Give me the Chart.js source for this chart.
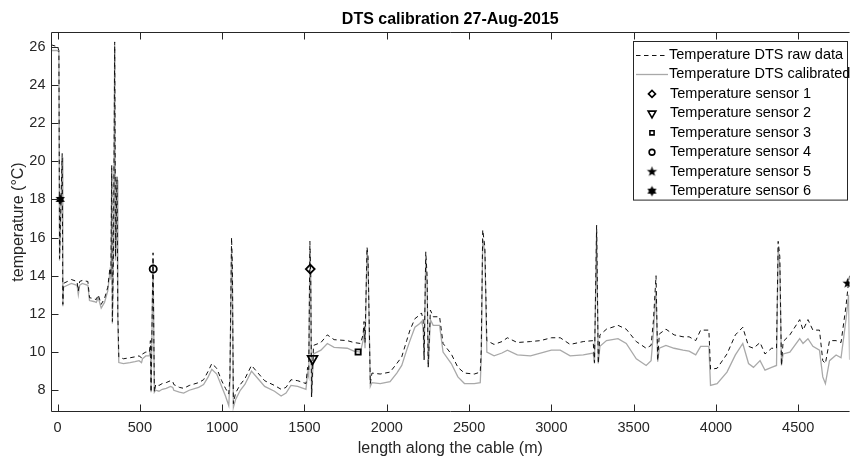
<!DOCTYPE html>
<html>
<head>
<meta charset="utf-8">
<title>DTS calibration 27-Aug-2015</title>
<script src="https://cdn.jsdelivr.net/npm/chart.js@4.4.1/dist/chart.umd.min.js"></script>
<style>
  html, body { margin: 0; padding: 0; background: #fff; }
  canvas { display: block; }
</style>
</head>
<body>
<canvas id="dts" width="857" height="459"></canvas>
<script>
"use strict";

// distance along the cable (m)
const cableLength = [
    -40, 0, 8, 12, 28, 32, 36, 60, 84, 118, 126, 134, 150, 184, 194, 220, 235, 247, 265, 285,
    305, 318, 324, 329, 333, 340, 347, 352, 361, 366, 372, 400, 440, 470, 495, 510, 516, 536, 558, 564,
    568, 580, 588, 596, 616, 636, 660, 686, 700, 706, 740, 766, 800, 857, 887, 915, 937, 967, 997, 1020,
    1040, 1047, 1057, 1062, 1068, 1081, 1110, 1138, 1178, 1218, 1258, 1318, 1358, 1388, 1418, 1459, 1509, 1519, 1526, 1533,
    1538, 1543, 1555, 1600, 1639, 1680, 1760, 1800, 1840, 1856, 1862, 1868, 1880, 1886, 1900, 1910, 1960, 2020, 2061, 2091,
    2121, 2141, 2171, 2201, 2211, 2221, 2227, 2237, 2245, 2252, 2265, 2282, 2321, 2342, 2392, 2432, 2472, 2532, 2568, 2574,
    2583, 2596, 2608, 2652, 2700, 2733, 2793, 2873, 2934, 3000, 3054, 3114, 3194, 3254, 3262, 3275, 3285, 3295, 3335, 3405,
    3455, 3516, 3576, 3606, 3620, 3636, 3646, 3656, 3696, 3746, 3800, 3837, 3877, 3907, 3957, 3967, 4007, 4067, 4118, 4163,
    4198, 4228, 4268, 4298, 4338, 4368, 4378, 4388, 4398, 4408, 4449, 4509, 4529, 4559, 4589, 4629, 4649, 4665, 4690, 4730,
    4760, 4790, 4806, 4812
];

// Temperature DTS raw data (°C)
const rawTemp = [
    26.1, 26.0, 25.8, 14.9, 20.4, 12.5, 13.6, 13.7, 13.8, 13.7, 13.2, 13.7, 13.75, 13.7, 12.85, 12.8, 12.75, 13.0, 12.5, 12.8,
    13.4, 14.4, 14.0, 19.8, 11.6, 15.5, 26.25, 15.0, 19.2, 12.0, 9.75, 9.65, 9.7, 9.75, 9.8, 9.7, 9.9, 10.0, 10.0, 10.6,
    7.9, 15.2, 7.9, 8.3, 8.25, 8.35, 8.4, 8.5, 8.45, 8.3, 8.15, 8.1, 8.25, 8.4, 8.55, 9.0, 9.4, 9.15, 8.5, 8.1,
    7.8, 8.7, 16.0, 14.5, 7.3, 7.85, 8.3, 8.6, 9.3, 8.9, 8.5, 8.25, 8.05, 8.15, 8.55, 8.5, 8.35, 9.2, 9.0, 15.8,
    14.0, 7.65, 10.35, 10.5, 10.9, 10.65, 10.6, 10.5, 10.45, 10.9, 11.6, 10.5, 15.5, 15.0, 8.35, 8.9, 8.85, 8.95, 9.4, 9.75,
    10.6, 11.15, 11.75, 11.95, 12.05, 11.7, 9.6, 15.25, 14.0, 9.2, 12.2, 11.85, 11.85, 10.45, 9.9, 9.2, 8.9, 8.85, 8.95, 10.1,
    16.4, 15.5, 10.6, 10.4, 10.55, 10.75, 10.5, 10.55, 10.6, 10.75, 10.75, 10.4, 10.55, 10.6, 9.45, 16.65, 9.4, 10.9, 11.2, 11.4,
    11.2, 10.55, 10.2, 10.35, 11.65, 14.0, 9.55, 10.95, 11.2, 10.9, 10.8, 10.8, 10.6, 11.15, 11.15, 9.1, 9.15, 9.9, 10.9, 11.3,
    10.3, 10.2, 10.5, 9.9, 10.2, 10.2, 15.8, 15.0, 9.3, 10.55, 10.9, 11.7, 11.15, 11.7, 11.15, 11.15, 9.55, 9.4, 10.6, 10.6,
    10.5, 12.4, 13.7, 14.0
];

// Temperature DTS calibrated (°C)
const calTemp = [
    25.8, 25.8, 25.7, 14.8, 20.2, 12.4, 13.4, 13.5, 13.6, 13.5, 13.0, 13.5, 13.6, 13.5, 12.7, 12.65, 12.6, 12.85, 12.3, 12.6,
    13.2, 14.2, 13.8, 19.4, 11.5, 15.3, 26.0, 14.8, 19.0, 11.8, 9.45, 9.4, 9.45, 9.5, 9.55, 9.45, 9.65, 9.8, 9.8, 10.3,
    7.9, 14.9, 7.9, 8.0, 7.95, 8.05, 8.1, 8.2, 8.15, 8.0, 7.9, 7.85, 8.0, 8.15, 8.3, 8.7, 9.1, 8.85, 8.2, 7.7,
    7.2, 8.4, 15.4, 14.0, 7.1, 7.5, 8.0, 8.3, 9.0, 8.6, 8.2, 7.95, 7.7, 7.85, 8.25, 8.2, 8.05, 8.9, 8.7, 15.3,
    13.8, 7.65, 9.9, 10.1, 10.45, 10.25, 10.2, 10.05, 10.0, 10.6, 11.3, 10.2, 15.3, 14.8, 8.2, 8.4, 8.35, 8.45, 8.9, 9.3,
    10.1, 10.6, 11.3, 11.5, 11.6, 11.3, 9.6, 14.9, 13.5, 9.2, 11.7, 11.4, 11.4, 10.0, 9.4, 8.7, 8.35, 8.35, 8.4, 9.6,
    15.9, 15.2, 10.0, 9.8, 9.95, 10.1, 9.85, 9.8, 9.95, 10.1, 10.1, 9.8, 9.85, 9.95, 9.4, 16.3, 9.4, 10.3, 10.6, 10.7,
    10.45, 9.65, 9.3, 9.55, 11.0, 13.2, 9.5, 10.2, 10.35, 10.2, 10.1, 10.05, 9.85, 10.3, 10.3, 8.25, 8.35, 8.95, 9.85, 10.45,
    9.4, 9.2, 9.55, 9.05, 9.2, 9.3, 15.5, 14.5, 9.3, 9.9, 10.0, 10.7, 10.45, 10.7, 10.3, 10.1, 8.7, 8.35, 9.55, 9.85,
    9.7, 11.7, 13.0, 9.6
];

// reference sensors: position (m) and temperature (°C)
const sensorLabels = [
    "Temperature sensor 1", "Temperature sensor 2", "Temperature sensor 3",
    "Temperature sensor 4", "Temperature sensor 5", "Temperature sensor 6"
];
const sensorLength = [1535, 1549, 1826, 581, 4800, 16];
const sensorTemp = [14.35, 9.65, 10.0, 14.35, 13.6, 18.0];

const xTicks = [0, 500, 1000, 1500, 2000, 2500, 3000, 3500, 4000, 4500];
const yTicks = [8, 10, 12, 14, 16, 18, 20, 22, 24, 26];

const FONT = "'Liberation Sans', Arial, Helvetica, sans-serif";
const AXIS_COLOR = "#262626";
const RAW_COLOR = "#111111";
const CAL_COLOR = "#a9a9a9";

function starCanvas(points, outer, inner) {
    const s = Math.ceil(outer * 2) + 2;
    const cv = document.createElement("canvas");
    cv.width = s;
    cv.height = s;
    const g = cv.getContext("2d");
    g.fillStyle = "#000";
    g.beginPath();
    for (let i = 0; i < points * 2; i++) {
        const r = i % 2 ? inner : outer;
        const a = -Math.PI / 2 + i * Math.PI / points;
        const px = s / 2 + r * Math.cos(a);
        const py = s / 2 + r * Math.sin(a);
        if (i === 0) g.moveTo(px, py);
        else g.lineTo(px, py);
    }
    g.closePath();
    g.fill();
    return cv;
}

const pentagram = starCanvas(5, 5.4, 2.2);
const hexagram = starCanvas(6, 5.2, 3.0);

// marker look per sensor (MATLAB d, v, s, o, p, h)
const sensorMarkers = [
    { pointStyle: "rectRot", radius: 4.4, rotation: 0 },
    { pointStyle: "triangle", radius: 5.6, rotation: 180 },
    { pointStyle: "rect", radius: 3.7, rotation: 0 },
    { pointStyle: "circle", radius: 3.6, rotation: 0 },
    { pointStyle: pentagram, radius: 5, rotation: 0 },
    { pointStyle: hexagram, radius: 5, rotation: 0 }
];

// MATLAB style box with inward ticks
const axesBox = {
    id: "axesBox",
    afterDatasetsDraw(chart) {
        const { ctx, chartArea: a, scales } = chart;
        const L = Math.round(a.left) + 0.5;
        const T = Math.round(a.top) + 0.5;
        const B = Math.round(a.bottom) - 0.5;
        const R = a.right;
        const len = 7;
        ctx.save();
        ctx.strokeStyle = AXIS_COLOR;
        ctx.lineWidth = 1;
        ctx.beginPath();
        ctx.moveTo(R, T);
        ctx.lineTo(L, T);
        ctx.lineTo(L, B);
        ctx.lineTo(R, B);
        scales.x.ticks.forEach((t) => {
            const px = Math.round(scales.x.getPixelForValue(t.value)) + 0.5;
            ctx.moveTo(px, B);
            ctx.lineTo(px, B - len);
            ctx.moveTo(px, T);
            ctx.lineTo(px, T + len);
        });
        scales.y.ticks.forEach((t) => {
            const py = Math.round(scales.y.getPixelForValue(t.value)) + 0.5;
            ctx.moveTo(L, py);
            ctx.lineTo(L + len, py);
        });
        ctx.stroke();
        ctx.restore();
    }
};

// legend box in the north-east corner of the axes
const boxLegend = {
    id: "boxLegend",
    afterDraw(chart) {
        const { ctx, chartArea: a } = chart;
        const left = 633.5, top = Math.round(a.top) + 9.5;
        const right = Math.floor(a.right) - 1.5, rowH = 19.45;
        const rows = 2 + sensorLabels.length;
        const bottom = top + rows * rowH + 3;
        ctx.save();
        ctx.fillStyle = "#fff";
        ctx.fillRect(left, top, right - left, bottom - top);
        ctx.strokeStyle = AXIS_COLOR;
        ctx.lineWidth = 1;
        ctx.strokeRect(left, top, right - left, bottom - top);

        ctx.font = "14.5px " + FONT;
        ctx.textBaseline = "middle";
        ctx.textAlign = "left";
        const textX = 669;
        const y0 = top + 13.5;

        // line samples
        ctx.beginPath();
        ctx.strokeStyle = RAW_COLOR;
        ctx.setLineDash([4.5, 3.5]);
        ctx.moveTo(636, Math.round(y0) + 0.5);
        ctx.lineTo(668, Math.round(y0) + 0.5);
        ctx.stroke();
        ctx.beginPath();
        ctx.setLineDash([]);
        ctx.strokeStyle = CAL_COLOR;
        ctx.lineWidth = 1.3;
        ctx.moveTo(636, Math.round(y0 + rowH) + 0.5);
        ctx.lineTo(668, Math.round(y0 + rowH) + 0.5);
        ctx.stroke();

        ctx.fillStyle = "#000";
        ctx.fillText("Temperature DTS raw data", textX, y0);
        ctx.fillText("Temperature DTS calibrated", textX, y0 + rowH);

        sensorLabels.forEach((label, i) => {
            const cy = y0 + (i + 2) * rowH;
            const m = sensorMarkers[i];
            ctx.strokeStyle = "#000";
            ctx.fillStyle = "rgba(0,0,0,0)";
            ctx.lineWidth = 1.6;
            Chart.helpers.drawPoint(ctx, {
                pointStyle: m.pointStyle,
                radius: m.radius * 0.8,
                rotation: m.rotation,
                borderWidth: 1.6
            }, 652, cy);
            ctx.fillStyle = "#000";
            ctx.fillText(label, textX + 1, cy);
        });
        ctx.restore();
    }
};

const lineDatasets = [
    {
        label: "Temperature DTS raw data",
        data: cableLength.map((x, i) => ({ x, y: rawTemp[i] })),
        showLine: true,
        borderColor: RAW_COLOR,
        borderWidth: 1,
        borderDash: [4.5, 3.5],
        pointRadius: 0,
        tension: 0,
        order: 1
    },
    {
        label: "Temperature DTS calibrated",
        data: cableLength.map((x, i) => ({ x, y: calTemp[i] })),
        showLine: true,
        borderColor: CAL_COLOR,
        borderWidth: 1.3,
        pointRadius: 0,
        tension: 0,
        order: 2
    }
];

const sensorDatasets = sensorLabels.map((label, i) => ({
    label,
    data: [{ x: sensorLength[i], y: sensorTemp[i] }],
    showLine: false,
    pointStyle: sensorMarkers[i].pointStyle,
    pointRadius: sensorMarkers[i].radius,
    rotation: sensorMarkers[i].rotation,
    borderColor: "#000",
    backgroundColor: "rgba(0,0,0,0)",
    pointBorderWidth: 1.8,
    order: 0
}));

new Chart(document.getElementById("dts"), {
    type: "scatter",
    data: { datasets: [...lineDatasets, ...sensorDatasets] },
    options: {
        responsive: false,
        animation: false,
        events: [],
        layout: { padding: { left: 0, right: 0, top: 0, bottom: 0 } },
        plugins: {
            legend: { display: false },
            tooltip: { enabled: false },
            title: {
                display: true,
                fullSize: false,
                text: "DTS calibration 27-Aug-2015",
                color: "#000",
                font: { family: FONT, size: 16, weight: "bold" },
                padding: { top: 9.5, bottom: 3.3 }
            }
        },
        scales: {
            x: {
                type: "linear",
                min: -40,
                max: 4812,
                afterBuildTicks: (scale) => { scale.ticks = xTicks.map((v) => ({ value: v })); },
                afterFit: (scale) => { scale.height = 47; },
                grid: { display: false, drawTicks: false },
                border: { display: false },
                ticks: {
                    color: AXIS_COLOR,
                    font: { family: FONT, size: 14.5 },
                    padding: 7,
                    maxRotation: 0,
                    autoSkip: false,
                    callback: (v) => String(v)
                },
                title: {
                    display: true,
                    text: "length along the cable (m)",
                    color: AXIS_COLOR,
                    font: { family: FONT, size: 16 },
                    padding: { top: 0, bottom: 0.5 }
                }
            },
            y: {
                type: "linear",
                min: 6.86,
                max: 26.77,
                afterBuildTicks: (scale) => { scale.ticks = yTicks.map((v) => ({ value: v })); },
                afterFit: (scale) => { scale.width = 51; },
                grid: { display: false, drawTicks: false },
                border: { display: false },
                ticks: {
                    color: AXIS_COLOR,
                    font: { family: FONT, size: 14.5 },
                    padding: 5.5,
                    autoSkip: false,
                    callback: (v) => String(v)
                },
                title: {
                    display: true,
                    text: "temperature (°C)",
                    color: AXIS_COLOR,
                    font: { family: FONT, size: 16 },
                    padding: { top: 9, bottom: 0 }
                }
            }
        }
    },
    plugins: [axesBox, boxLegend]
});
</script>
</body>
</html>
